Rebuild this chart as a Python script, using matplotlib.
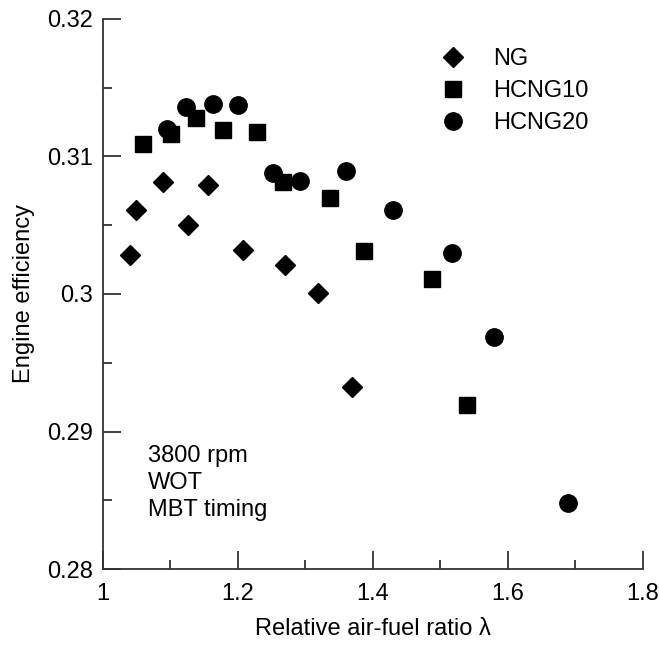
import matplotlib.pyplot as plt
from matplotlib.ticker import MultipleLocator

plt.rcParams['font.family'] = ['Liberation Sans', 'DejaVu Sans']

# data
ng_x = [1.04, 1.049, 1.089, 1.126, 1.156, 1.207, 1.270, 1.319, 1.369]
ng_y = [0.3028, 0.3061, 0.3081, 0.3050, 0.3079, 0.3032, 0.3021, 0.3001, 0.2932]

h10_x = [1.059, 1.101, 1.138, 1.178, 1.228, 1.267, 1.336, 1.387, 1.487, 1.539]
h10_y = [0.3109, 0.3116, 0.3128, 0.3119, 0.3118, 0.3081, 0.3070, 0.3031, 0.3011, 0.2919]

h20_x = [1.095, 1.123, 1.163, 1.200, 1.252, 1.292, 1.360, 1.430, 1.517, 1.579, 1.689]
h20_y = [0.3120, 0.3136, 0.3138, 0.3137, 0.3088, 0.3082, 0.3089, 0.3061, 0.3030, 0.2969, 0.2848]

labels = ["NG", "HCNG10", "HCNG20"]
conditions = "3800 rpm\nWOT\nMBT timing"
xticks = [1, 1.2, 1.4, 1.6, 1.8]
xticklabels = ["1", "1.2", "1.4", "1.6", "1.8"]
yticks = [0.28, 0.29, 0.3, 0.31, 0.32]
yticklabels = ["0.28", "0.29", "0.3", "0.31", "0.32"]

fs = 17

fig = plt.figure(figsize=(6.6, 6.46), dpi=100)
ax = fig.add_axes([0.156, 0.119, 0.818, 0.852])

ax.plot(ng_x, ng_y, 'D', color='black', ms=10, ls='none', label=labels[0])
ax.plot(h10_x, h10_y, 's', color='black', ms=11.5, ls='none', label=labels[1])
ax.plot(h20_x, h20_y, 'o', color='black', ms=12.5, ls='none', label=labels[2])

ax.set_xlim(1, 1.8)
ax.set_ylim(0.28, 0.32)
ax.set_xticks(xticks)
ax.set_xticklabels(xticklabels)
ax.set_yticks(yticks)
ax.set_yticklabels(yticklabels)
ax.xaxis.set_minor_locator(MultipleLocator(0.1))
ax.yaxis.set_minor_locator(MultipleLocator(0.005))

for s in ['top', 'right']:
    ax.spines[s].set_visible(False)
for s in ['left', 'bottom']:
    ax.spines[s].set_color('#333333')
    ax.spines[s].set_linewidth(1.3)
ax.tick_params(which='major', direction='in', length=13, width=1.3, color='#333333',
               labelsize=fs)
ax.tick_params(axis='x', which='major', pad=10)
ax.tick_params(axis='y', which='major', pad=7)
ax.tick_params(which='minor', direction='in', length=6.5, width=1.3, color='#333333')

ax.set_xlabel("Relative air-fuel ratio λ", fontsize=fs, labelpad=9)
ax.set_ylabel("Engine efficiency", fontsize=fs, labelpad=9)

ax.text(1.067, 0.28903, conditions, fontsize=fs, va='top', ha='left', linespacing=1.3)

ax.legend(loc='upper left', bbox_to_anchor=(0.669, 0.926), bbox_transform=fig.transFigure,
          frameon=False, fontsize=fs, borderpad=0, borderaxespad=0,
          handlelength=1.0, handletextpad=1.2, labelspacing=0.43)

fig.savefig("out.png", dpi=100)
